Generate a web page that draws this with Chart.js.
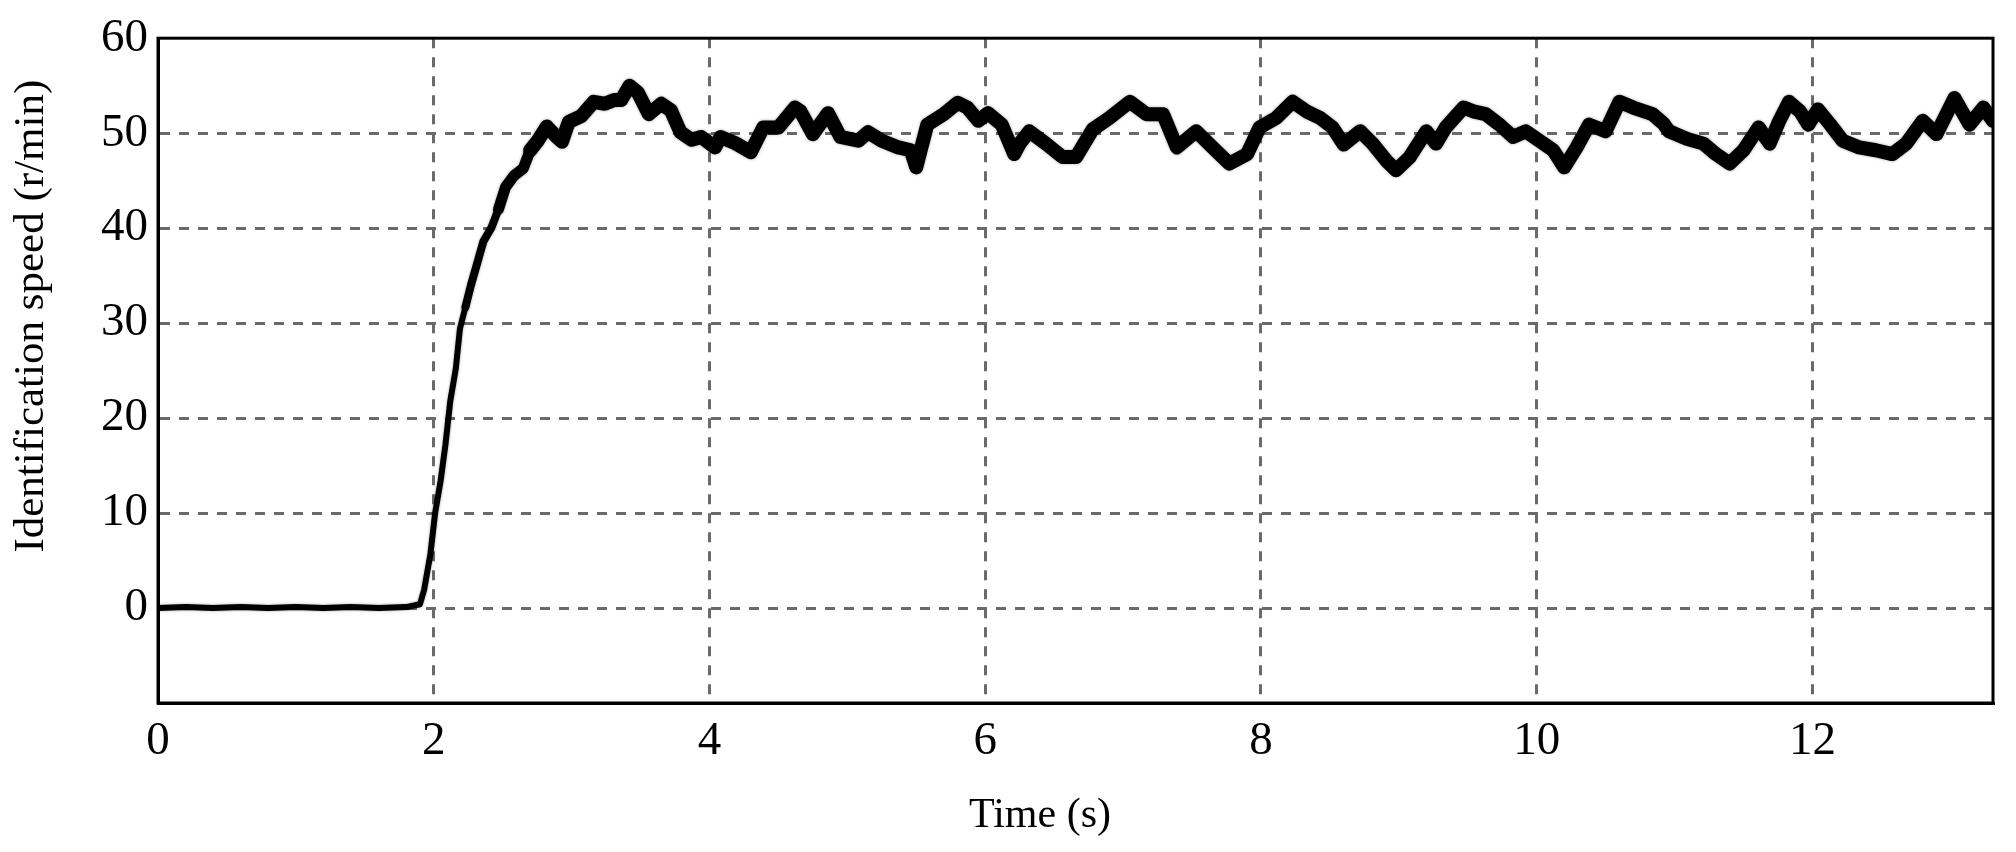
<!DOCTYPE html>
<html>
<head>
<meta charset="utf-8">
<script src="https://cdn.jsdelivr.net/npm/chart.js@4/dist/chart.umd.min.js"></script>
<style>
html,body{margin:0;padding:0;background:#fff;}
#wrap{width:2016px;height:852px;position:relative;}
</style>
</head>
<body>
<div id="wrap"><canvas id="c"></canvas></div>
<script>
// Time (s)
const times = [0,0.2,0.4,0.6,0.8,1.0,1.2,1.4,1.6,1.8,1.9,1.93,1.976,2.01,2.05,2.085,2.12,2.16,2.19,2.23,2.27,2.315,2.36,2.42,2.47,2.52,2.58,2.65,2.70,2.75,2.82,2.885,2.93,2.98,3.07,3.16,3.24,3.31,3.36,3.42,3.48,3.56,3.65,3.72,3.79,3.87,3.94,4.04,4.08,4.18,4.30,4.39,4.50,4.62,4.66,4.75,4.86,4.95,5.08,5.15,5.25,5.37,5.46,5.50,5.58,5.70,5.80,5.87,5.95,6.02,6.12,6.21,6.25,6.32,6.44,6.56,6.66,6.78,6.90,7.05,7.17,7.29,7.39,7.53,7.65,7.77,7.90,7.99,8.11,8.23,8.33,8.43,8.52,8.60,8.72,8.81,8.91,8.98,9.08,9.20,9.27,9.34,9.47,9.54,9.63,9.73,9.83,9.92,10.02,10.12,10.20,10.29,10.38,10.50,10.60,10.70,10.84,10.92,10.96,11.09,11.21,11.30,11.40,11.50,11.61,11.69,11.76,11.83,11.91,11.97,12.04,12.13,12.22,12.34,12.46,12.58,12.68,12.80,12.90,13.03,13.14,13.24,13.31];
// Identification speed (r/min)
const speeds = [0.0,0.1,0.0,0.1,0.0,0.1,0.0,0.1,0.0,0.1,0.4,1.9,5.7,10.0,13.4,17.2,21.8,25.2,29.4,31.7,34.0,36.3,38.6,40.1,42.0,44.3,45.5,46.3,48.2,49.1,50.7,49.7,49.1,51.2,51.8,53.3,53.1,53.5,53.5,55.0,54.3,52.0,53.1,52.4,50.1,49.3,49.6,48.5,49.6,49.0,48.0,50.6,50.6,52.7,52.3,49.9,52.1,49.6,49.2,50.1,49.2,48.5,48.2,46.4,50.9,52.0,53.2,52.7,51.3,52.1,50.9,47.8,48.9,50.2,48.9,47.5,47.5,50.4,51.6,53.3,52.0,52.0,48.5,50.2,48.5,46.8,47.8,50.6,51.6,53.3,52.3,51.6,50.6,48.8,50.2,48.9,47.1,46.1,47.5,50.2,48.9,50.6,52.7,52.3,52.0,50.9,49.6,50.2,49.2,48.2,46.4,48.5,50.9,50.2,53.3,52.7,52.0,51.0,50.2,49.4,48.9,47.8,46.8,48.2,50.6,48.9,51.3,53.3,52.3,50.9,52.5,50.9,49.2,48.5,48.2,47.8,48.9,51.3,49.9,53.7,50.9,52.7,51.3];
const xTicks = [0,2,4,6,8,10,12];
const yTicks = [-10,0,10,20,30,40,50,60];
const xTitle = 'Time (s)';
const yTitle = 'Identification speed (r/min)';

const points = times.map((t,i)=>({x:t,y:speeds[i]}));

const frame = {
  id:'frame',
  beforeDatasetsDraw(chart){
    chart.ctx.save();
    chart.ctx.shadowColor='rgba(0,0,0,0.35)';
    chart.ctx.shadowBlur=3;
  },
  afterDatasetsDraw(chart){
    chart.ctx.restore();
  },
  afterDraw(chart){
    const {ctx, chartArea:a} = chart;
    ctx.save();
    ctx.strokeStyle='#000';
    ctx.lineWidth=3;
    ctx.strokeRect(a.left, a.top, a.right-a.left, a.bottom-a.top);
    ctx.fillStyle='#000';
    ctx.textAlign='center';
    ctx.textBaseline='middle';
    ctx.font='42px "Liberation Serif"';
    ctx.fillText(xTitle, a.left+882, a.bottom+113);
    ctx.font='43px "Liberation Serif"';
    ctx.translate(32, a.top+278);
    ctx.rotate(-Math.PI/2);
    ctx.fillText(yTitle, 0, 0);
    ctx.restore();
  }
};

new Chart(document.getElementById('c'), {
  type:'line',
  data:{datasets:[{
    data:points,
    borderColor:'#000',
    borderWidth:14,
    pointRadius:0,
    tension:0,
    borderJoinStyle:'round',
    borderCapStyle:'round',
    segment:{
      borderWidth: ctx => {
        const t = ctx.p0.parsed.x;
        if (t < 2.2) return 6;
        if (t < 2.45) return 8;
        if (t < 2.7) return 11;
        return 14;
      }
    }
  }]},
  options:{
    responsive:true,
    maintainAspectRatio:false,
    animation:false,
    layout:{padding:{top:26,right:23,left:0,bottom:0}},
    plugins:{legend:{display:false},tooltip:{enabled:false}},
    scales:{
      x:{
        type:'linear',
        min:0, max:13.31,
        afterFit(s){ s.height = 149; },
        afterBuildTicks(s){ s.ticks = xTicks.map(v=>({value:v})); },
        ticks:{
          font:{family:'"Liberation Serif"', size:47},
          color:'#000',
          padding:10,
          maxRotation:0,
          autoSkip:false
        },
        grid:{
          color: c => (c.tick && (c.tick.value===0) ? 'rgba(0,0,0,0)' : '#6a6a6a'),
          lineWidth:3,
          drawTicks:false
        },
        border:{display:true,color:'#000',width:3,dash:[10,9]}
      },
      y:{
        type:'linear',
        min:-10, max:60,
        afterFit(s){ s.width = 158; },
        afterBuildTicks(s){ s.ticks = yTicks.map(v=>({value:v})); },
        ticks:{
          font:{family:'"Liberation Serif"', size:47},
          color:'#000',
          padding:10,
          callback:v => (v === -10 ? '' : String(v))
        },
        grid:{
          color: c => (c.tick && (c.tick.value===-10 || c.tick.value===60) ? 'rgba(0,0,0,0)' : '#6a6a6a'),
          lineWidth:3,
          drawTicks:false
        },
        border:{display:true,color:'#000',width:3,dash:[10,9]}
      }
    }
  },
  plugins:[frame]
});
</script>
</body>
</html>
